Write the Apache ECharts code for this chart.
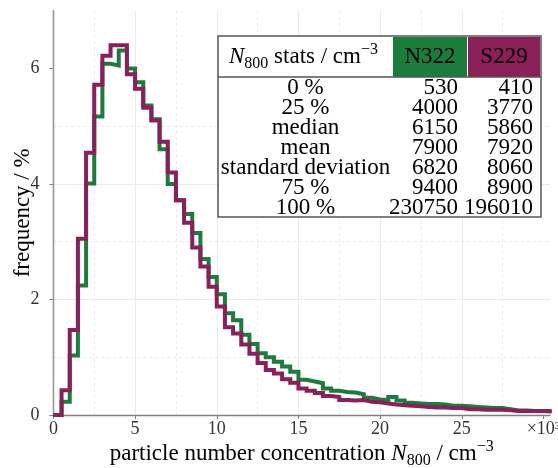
<!DOCTYPE html>
<html><head><meta charset="utf-8">
<script src="https://cdn.jsdelivr.net/npm/echarts@6/dist/echarts.min.js"></script>
<style>html,body{margin:0;padding:0;background:#fff}#c{width:558px;height:468px}</style>
</head><body><div id="c"></div>
<script>
// bin edges (x 10^3 cm^-3)
const binEdges = [0,0.5,1,1.5,2,2.5,3,3.5,4,4.5,5,5.5,6,6.5,7,7.5,8,8.5,9,9.5,10,10.5,11,11.5,12,12.5,13,13.5,14,14.5,15,15.5,16,16.5,17,17.5,18,18.5,19,19.5,20,20.5,21,21.5,22,22.5,23,23.5,24,24.5,25,25.5,26,26.5,27,27.5,28,28.5,29,29.5,30,30.5];
// frequency (%) per bin
const n322 = [0,0.23,1.03,2.24,4.01,5.17,6.08,6.05,6.31,6.00,5.76,5.36,5.12,4.60,4.00,3.72,3.48,3.15,2.70,2.39,2.09,1.76,1.64,1.39,1.23,1.07,1.00,0.92,0.84,0.75,0.61,0.58,0.55,0.46,0.42,0.40,0.39,0.36,0.30,0.27,0.26,0.31,0.25,0.21,0.20,0.19,0.19,0.18,0.16,0.16,0.15,0.14,0.13,0.12,0.12,0.10,0.08,0.08,0.07,0.07,0.07];
const s229 = [0,0.43,1.47,3.05,4.54,5.72,6.22,6.40,6.40,5.90,5.65,5.32,5.10,4.73,4.20,3.72,3.33,2.90,2.57,2.22,1.88,1.52,1.41,1.22,1.06,0.90,0.78,0.72,0.62,0.56,0.46,0.42,0.38,0.33,0.31,0.26,0.25,0.26,0.23,0.22,0.20,0.18,0.17,0.16,0.15,0.14,0.13,0.13,0.12,0.12,0.10,0.10,0.09,0.09,0.09,0.08,0.07,0.07,0.07,0.07,0.06];
const seriesNames = ['N322','S229'];
const xTicks = [0,5,10,15,20,25,30];
const yTicks = [0,2,4,6];
const statLabels = ['0 %','25 %','median','mean','standard deviation','75 %','100 %'];
const statN322 = ['530','4000','6150','7900','6820','9400','230750'];
const statS229 = ['410','3770','5860','7920','8060','8900','196010'];

const GREEN = '#1b7d3b';
const PURPLE = '#8b1f57';
const FONT = '"Liberation Serif","DejaVu Serif",serif';
const FS = 23;

function stepData(vals){
  const d = vals.map((v,i)=>[binEdges[i], v]);
  d.push([binEdges[vals.length], vals[vals.length-1]]);
  return d;
}

const chart = echarts.init(document.getElementById('c'), null, {renderer:'canvas'});

const richSub = {
  m:{fontSize:FS, lineHeight:30, fontFamily:FONT, color:'#000'},
  i:{fontSize:FS, lineHeight:30, fontFamily:FONT, fontStyle:'italic', color:'#000'},
  s:{fontSize:16, lineHeight:15, fontFamily:FONT, verticalAlign:'bottom', color:'#000'},
  p:{fontSize:16, lineHeight:15, fontFamily:FONT, verticalAlign:'top', color:'#000'}
};

const tbl = {l:218, r:541, t:36, b:217, h:77, c1:393, c2:467};
const graphics = [
  {type:'rect', z:100, shape:{x:tbl.l, y:tbl.t, width:tbl.r-tbl.l, height:tbl.b-tbl.t}, style:{fill:'#fff', stroke:'#555', lineWidth:1.5}},
  {type:'rect', z:101, shape:{x:tbl.c1, y:tbl.t+1, width:tbl.c2-tbl.c1, height:tbl.h-tbl.t-1}, style:{fill:GREEN}},
  {type:'rect', z:101, shape:{x:tbl.c2+1, y:tbl.t+1, width:tbl.r-tbl.c2-2, height:tbl.h-tbl.t-1}, style:{fill:PURPLE}},
  {type:'line', z:102, shape:{x1:tbl.l, y1:tbl.h, x2:tbl.r, y2:tbl.h}, style:{stroke:'#555', lineWidth:1.5}},
  {type:'text', z:103, style:{x:229, y:57, text:'{i|N}{s|800}{m| stats / cm}{p|−3}', rich:richSub, verticalAlign:'middle', align:'left'}},
  {type:'text', z:103, style:{x:(tbl.c1+tbl.c2)/2, y:57, text:seriesNames[0], fontSize:FS, fontFamily:FONT, fill:'#000', align:'center', verticalAlign:'middle'}},
  {type:'text', z:103, style:{x:(tbl.c2+tbl.r)/2, y:57, text:seriesNames[1], fontSize:FS, fontFamily:FONT, fill:'#000', align:'center', verticalAlign:'middle'}}
];
statLabels.forEach((lab,i)=>{
  const y = 88 + i*20;
  graphics.push({type:'text', z:103, style:{x:305.5, y:y, text:lab, fontSize:FS, fontFamily:FONT, fill:'#000', align:'center', verticalAlign:'middle'}});
  graphics.push({type:'text', z:103, style:{x:458, y:y, text:statN322[i], fontSize:FS, fontFamily:FONT, fill:'#000', align:'right', verticalAlign:'middle'}});
  graphics.push({type:'text', z:103, style:{x:533, y:y, text:statS229[i], fontSize:FS, fontFamily:FONT, fill:'#000', align:'right', verticalAlign:'middle'}});
});

chart.setOption({
  animation:false,
  backgroundColor:'#fff',
  grid:{left:53.4, right:8, top:10.7, bottom:53, containLabel:false, outerBoundsMode:'none'},
  xAxis:{
    type:'value', min:0, max:30.4, interval:5,
    axisLine:{show:true, onZero:false, lineStyle:{color:'#7f7f7f', width:1.3}},
    axisTick:{show:true, length:4, lineStyle:{color:'#7f7f7f'}, customValues:xTicks},
    axisLabel:{margin:5, fontSize:18, fontFamily:FONT, color:'#333', customValues:xTicks,
      formatter:(v)=> v===30 ? '×10³' : (v%5===0 ? String(v) : '')},
    splitLine:{show:true, showMaxLine:false, lineStyle:{color:'#ebebeb', width:1}},
    minorTick:{show:false, splitNumber:2},
    minorSplitLine:{show:true, lineStyle:{color:'#ececec', width:1, type:[3,3]}},
    name:'{m|particle number concentration }{i|N}{s|800}{m| / cm}{p|−3}',
    nameLocation:'middle', nameGap:24, nameMoveOverlap:false,
    nameTextStyle:{rich:richSub}
  },
  yAxis:[{
    type:'value', min:0, max:7, interval:2,
    axisLine:{show:true, onZero:false, lineStyle:{color:'#7f7f7f', width:1.3}},
    axisTick:{show:true, length:4, lineStyle:{color:'#7f7f7f'}, customValues:yTicks},
    axisLabel:{margin:14, fontSize:18, fontFamily:FONT, color:'#333', customValues:yTicks,
      formatter:(v)=> (v%2===0 ? String(v) : '')},
    splitLine:{show:true, showMaxLine:false, lineStyle:{color:'#ebebeb', width:1}},
    minorTick:{show:false, splitNumber:2},
    minorSplitLine:{show:true, lineStyle:{color:'#ececec', width:1, type:[3,3]}},
    name:'frequency / %', nameLocation:'middle', nameGap:19, nameMoveOverlap:false,
    nameTextStyle:{fontSize:FS, fontFamily:FONT, color:'#000'}
  },{
    type:'value', min:0, max:7, position:'right',
    axisLine:{show:true, lineStyle:{color:'#999', width:1.3}},
    axisTick:{show:false}, axisLabel:{show:false}, splitLine:{show:false}
  }],
  series:[
    {name:seriesNames[0], type:'line', step:'end', data:stepData(n322), showSymbol:false, symbol:'none',
     lineStyle:{color:GREEN, width:4, join:'miter'}, itemStyle:{color:GREEN}, clip:true, z:2},
    {name:seriesNames[1], type:'line', step:'end', data:stepData(s229), showSymbol:false, symbol:'none',
     lineStyle:{color:PURPLE, width:4, join:'miter'}, itemStyle:{color:PURPLE}, clip:true, z:3}
  ],
  graphic:graphics
});
</script></body></html>
